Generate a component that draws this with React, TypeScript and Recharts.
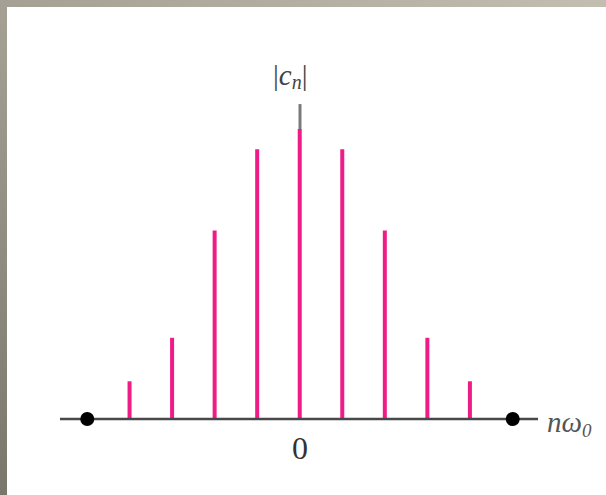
import { ComposedChart, Bar, Line, XAxis, YAxis, ReferenceLine } from "recharts";

// line spectrum |c_n| for n = -5 .. 5
const harmonics = [-5, -4, -3, -2, -1, 0, 1, 2, 3, 4, 5];
const magnitudes = [null, 0.13, 0.28, 0.65, 0.93, 1.0, 0.93, 0.65, 0.28, 0.13, null];
const endpoints = [0, null, null, null, null, null, null, null, null, null, 0];
const zeroTicks = [0];
const axisTop = 1.086;

const data = harmonics.map((n, i) => ({ n, mag: magnitudes[i], end: endpoints[i] }));

const STEM = "#ef1b86";
const serif = "'Liberation Serif', 'DejaVu Serif', serif";

export default function App() {
  return (
    <div
      style={{
        position: "absolute",
        left: 0,
        top: 0,
        width: 606,
        height: 495,
        background: "linear-gradient(to top right, #7b766c, #a29d91 45%, #c4bdb2)",
        overflow: "hidden",
      }}
    >
      <div
        style={{
          position: "absolute",
          left: 7,
          top: 7,
          width: 599,
          height: 488,
          background: "#fff",
        }}
      />
      <div style={{ position: "absolute", left: 0, top: 0 }}>
        <ComposedChart
          width={606}
          height={495}
          data={data}
          margin={{ top: 71, right: 68, bottom: 0, left: 60 }}
        >
          <XAxis
            dataKey="n"
            type="category"
            padding={{ left: 6, right: 4 }}
            axisLine={false}
            tickLine={false}
            ticks={zeroTicks}
            interval={0}
            height={76}
            tickMargin={11}
            tick={{ fontSize: 32, fontFamily: serif, fill: "#333" }}
          />
          <YAxis hide domain={[0, 1.2]} />
          <ReferenceLine y={0} stroke="#484848" strokeWidth={2.5} />
          <ReferenceLine
            segment={[
              { x: 0, y: 1 },
              { x: 0, y: axisTop },
            ]}
            stroke="#7a7a7a"
            strokeWidth={3}
          />
          <Bar dataKey="mag" barSize={4} fill={STEM} isAnimationActive={false} />
          <Line
            dataKey="end"
            stroke="none"
            dot={{ r: 7, fill: "#000", stroke: "none" }}
            activeDot={false}
            isAnimationActive={false}
          />
        </ComposedChart>
      </div>
      <div
        style={{
          position: "absolute",
          left: 273,
          top: 58,
          fontFamily: serif,
          fontSize: 29,
          color: "#444",
          lineHeight: "34px",
          whiteSpace: "nowrap",
        }}
      >
        |<i>c</i>
        <sub style={{ fontSize: 20, verticalAlign: -4 }}>
          <i>n</i>
        </sub>
        |
      </div>
      <div
        style={{
          position: "absolute",
          left: 547,
          top: 406,
          fontFamily: serif,
          fontSize: 29,
          color: "#555",
          lineHeight: "32px",
          fontStyle: "italic",
          whiteSpace: "nowrap",
        }}
      >
        nω
        <sub style={{ fontSize: 19, verticalAlign: -5 }}>0</sub>
      </div>
    </div>
  );
}
